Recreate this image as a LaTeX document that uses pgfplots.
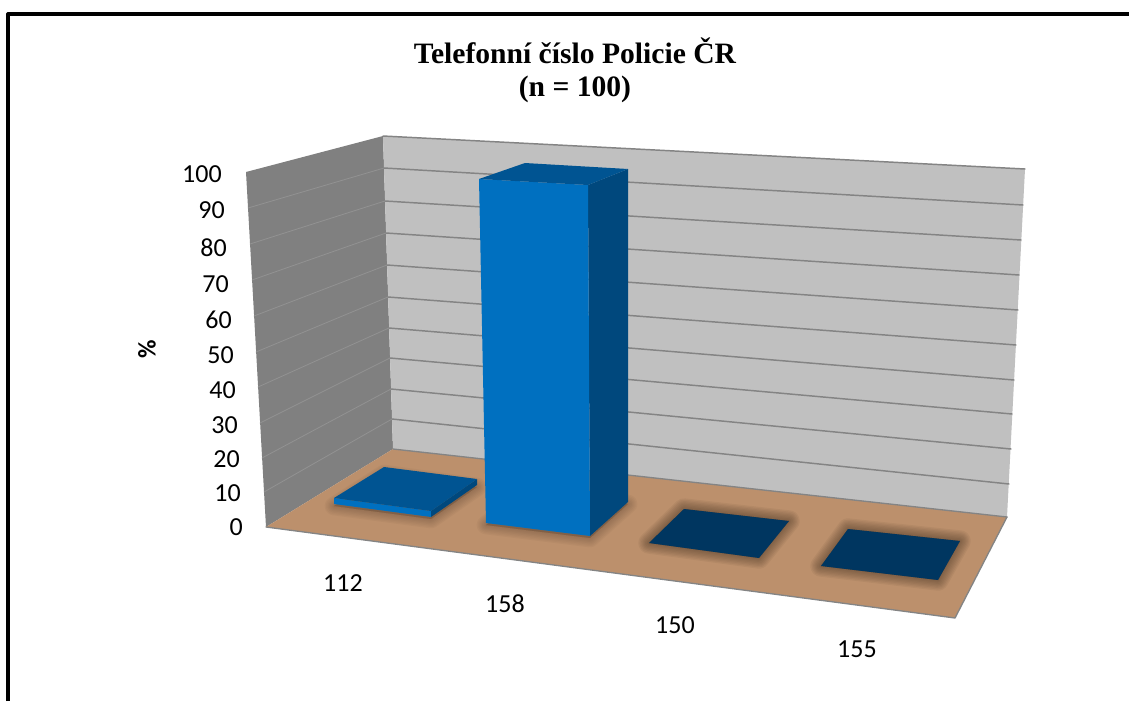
\documentclass[border=0pt]{standalone}
\usepackage{pgfplots}
\pgfplotsset{compat=1.18}
\usepackage{fontspec}
\setmainfont{Carlito}
\newfontfamily\titlefont{Liberation Serif}
\definecolor{wallL}{RGB}{128,128,128}
\definecolor{wallB}{RGB}{192,192,192}
\definecolor{gridB}{RGB}{132,132,132}
\definecolor{gridL}{RGB}{146,146,146}
\definecolor{floorc}{RGB}{188,144,108}
\definecolor{front}{RGB}{0,112,192}
\definecolor{topc}{RGB}{0,84,146}
\definecolor{side}{RGB}{0,72,125}
\definecolor{flat}{RGB}{0,54,96}
\definecolor{shad}{RGB}{70,50,35}
\begin{document}
\begin{tikzpicture}
\begin{axis}[
  scale only axis, width=846.75pt, height=525.75pt,
  xmin=0, xmax=1129, ymin=0, ymax=701, y dir=reverse,
  axis lines=none, clip=true,
  every axis plot/.append style={line cap=round, line join=round},
  wall/.style={draw=none, fill=#1, forget plot},
  gb/.style={draw=gridB, line width=1.1pt},
  gl/.style={draw=gridL, line width=0.6pt},
  sh/.style={draw=shad, fill=shad, draw opacity=0.07, fill opacity=0.07, line width=#1, line join=round},
  shl/.style={draw=shad, fill=shad, draw opacity=0.045, fill opacity=0.045, line width=#1, line join=round},
]
% page background
\addplot[wall=white] coordinates {(0,0) (1129,0) (1129,701) (0,701)} --cycle;
% frame
\addplot[black, line width=2.4pt, line cap=butt] coordinates {(8,701) (8,14) (1129,14)};
% walls
\addplot[wall=wallL] coordinates {(246,172) (383,136) (393,449) (266,527)} --cycle;
\addplot[wall=wallB] coordinates {(383,136) (1025,169) (1007,517) (393,449)} --cycle;
% back wall grid: 100, 90, ... 10, 0
\addplot[gb] coordinates {(383,136) (1025,169)};
\addplot[gb] coordinates {(384,168) (1023,205)};
\addplot[gb] coordinates {(385,201) (1021,240)};
\addplot[gb] coordinates {(386,233) (1019,275)};
\addplot[gb] coordinates {(387,265) (1018,310)};
\addplot[gb] coordinates {(388,297) (1016,345)};
\addplot[gb] coordinates {(389,328) (1014,380)};
\addplot[gb] coordinates {(390,358) (1012,414)};
\addplot[gb] coordinates {(391,389) (1011,449)};
\addplot[gb] coordinates {(392,419) (1009,484)};
% left wall grid
\addplot[gl] coordinates {(248,208) (384,168)};
\addplot[gl] coordinates {(250,244) (385,201)};
\addplot[gl] coordinates {(252,280) (386,233)};
\addplot[gl] coordinates {(254,316) (387,265)};
\addplot[gl] coordinates {(256,352) (388,297)};
\addplot[gl] coordinates {(258,387) (389,328)};
\addplot[gl] coordinates {(260,423) (390,358)};
\addplot[gl] coordinates {(262,458) (391,389)};
\addplot[gl] coordinates {(264,492) (392,419)};
% floor
\addplot[wall=floorc] coordinates {(266,527) (393,449) (1007,517) (955,618)} --cycle;
\addplot[draw=gridB, line width=1pt] coordinates {(393,449) (1007,517)};
\addplot[draw=gridB, line width=1pt] coordinates {(266,527) (955,618) (1007,517)};
% shadows: 112, 158
\pgfplotsinvokeforeach{14pt,12pt,10pt,8pt,6pt,4pt,2pt}{
\addplot[shl=#1] coordinates {(334,506) (431,519) (477,487) (384,474)} --cycle;
\addplot[shl=#1] coordinates {(486,525) (590,538) (628,504) (530,490)} --cycle;
}
% shadows: 150, 155
\pgfplotsinvokeforeach{16pt,14pt,12pt,10pt,8pt,6pt,4pt,2pt}{
\addplot[sh=#1] coordinates {(649,543) (759,558) (789,521) (684,509)} --cycle;
\addplot[sh=#1] coordinates {(821,566) (938,580) (960,541) (848,529)} --cycle;
}
% bar 112 (value 3)
\addplot[wall=front] coordinates {(334,498) (431,511) (431,517) (334,504)} --cycle;
\addplot[wall=side] coordinates {(431,511) (477,479) (477,485) (431,517)} --cycle;
\addplot[wall=topc] coordinates {(334,498) (431,511) (477,479) (384,467)} --cycle;
% bar 158 (value 97)
\addplot[wall=side] coordinates {(588,185) (628,169) (628,502) (590,536)} --cycle;
\addplot[wall=front] coordinates {(479,179) (588,185) (590,536) (486,523)} --cycle;
\addplot[wall=topc] coordinates {(479,179) (588,185) (628,169) (525,163)} --cycle;
% bars 150 and 155 (value 0)
\addplot[wall=flat] coordinates {(649,543) (759,558) (789,521) (684,509)} --cycle;
\addplot[wall=flat] coordinates {(821,566) (938,580) (960,541) (848,529)} --cycle;
% text
\def\tl{\fontsize{19.5}{22}\selectfont}
\node[font=\titlefont\bfseries\fontsize{22.2}{25}\selectfont, align=center] at (axis cs:575,70) {Telefonní číslo Policie ČR\\(n = 100)};
\node[font=\fontsize{19}{22}\selectfont\bfseries, rotate=90] at (axis cs:147,349) {\%};
\node[font=\tl, anchor=east, inner sep=0pt] at (axis cs:222,174) {100};
\node[font=\tl, anchor=east, inner sep=0pt] at (axis cs:225,210) {90};
\node[font=\tl, anchor=east, inner sep=0pt] at (axis cs:227,248) {80};
\node[font=\tl, anchor=east, inner sep=0pt] at (axis cs:229,284) {70};
\node[font=\tl, anchor=east, inner sep=0pt] at (axis cs:232,320) {60};
\node[font=\tl, anchor=east, inner sep=0pt] at (axis cs:234,355) {50};
\node[font=\tl, anchor=east, inner sep=0pt] at (axis cs:236,390) {40};
\node[font=\tl, anchor=east, inner sep=0pt] at (axis cs:238,425) {30};
\node[font=\tl, anchor=east, inner sep=0pt] at (axis cs:240,459) {20};
\node[font=\tl, anchor=east, inner sep=0pt] at (axis cs:241,493) {10};
\node[font=\tl, anchor=east, inner sep=0pt] at (axis cs:243,527) {0};
\node[font=\tl] at (axis cs:343,583) {112};
\node[font=\tl] at (axis cs:505,604) {158};
\node[font=\tl] at (axis cs:675,625) {150};
\node[font=\tl] at (axis cs:857,649) {155};
\end{axis}
\end{tikzpicture}
\end{document}
